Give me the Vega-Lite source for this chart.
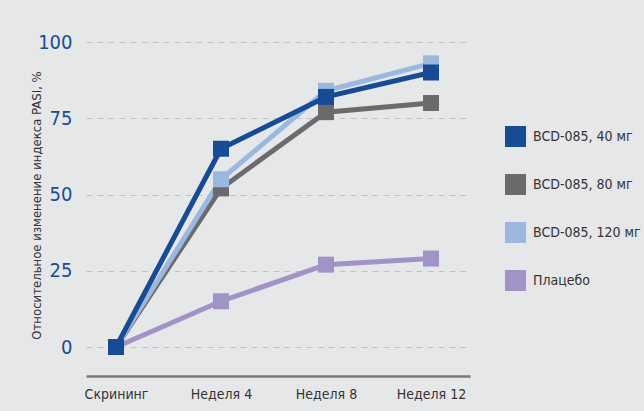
{
  "$schema": "https://vega.github.io/schema/vega-lite/v6.json",
  "autosize": {"type": "none"},
  "width": 384,
  "height": 305,
  "padding": {"left": 86, "top": 42, "right": 174, "bottom": 64},
  "background": "#e6e7e9",
  "data": {
    "values": [
      {"week": "Скрининг", "group": "Плацебо", "value": 0},
      {"week": "Неделя 4", "group": "Плацебо", "value": 15},
      {"week": "Неделя 8", "group": "Плацебо", "value": 27},
      {"week": "Неделя 12", "group": "Плацебо", "value": 29},
      {"week": "Скрининг", "group": "BCD-085, 80 мг", "value": 0},
      {"week": "Неделя 4", "group": "BCD-085, 80 мг", "value": 52},
      {"week": "Неделя 8", "group": "BCD-085, 80 мг", "value": 77},
      {"week": "Неделя 12", "group": "BCD-085, 80 мг", "value": 80},
      {"week": "Скрининг", "group": "BCD-085, 120 мг", "value": 0},
      {"week": "Неделя 4", "group": "BCD-085, 120 мг", "value": 55},
      {"week": "Неделя 8", "group": "BCD-085, 120 мг", "value": 84},
      {"week": "Неделя 12", "group": "BCD-085, 120 мг", "value": 93},
      {"week": "Скрининг", "group": "BCD-085, 40 мг", "value": 0},
      {"week": "Неделя 4", "group": "BCD-085, 40 мг", "value": 65},
      {"week": "Неделя 8", "group": "BCD-085, 40 мг", "value": 82},
      {"week": "Неделя 12", "group": "BCD-085, 40 мг", "value": 90}
    ]
  },
  "encoding": {
    "x": {
      "field": "week", "type": "ordinal",
      "sort": ["Скрининг", "Неделя 4", "Неделя 8", "Неделя 12"],
      "scale": {"type": "point", "padding": 0.3286, "align": 0.435},
      "axis": {
        "title": null, "labelAngle": 0, "offset": 29, "ticks": false, "grid": false,
        "domainColor": "#7a7a7a", "domainWidth": 2.5,
        "labelFontSize": 14, "labelColor": "#333333", "labelPadding": 11,
        "labelFont": "DejaVu Sans Condensed, sans-serif"
      }
    },
    "y": {
      "field": "value", "type": "quantitative",
      "scale": {"domain": [0, 100]},
      "axis": {
        "values": [0, 25, 50, 75, 100],
        "title": "Относительное изменение индекса PASI, %",
        "titleFontSize": 13, "titleFontWeight": "normal", "titleColor": "#333333",
        "titleFont": "DejaVu Sans Condensed, sans-serif",
        "titlePadding": -6, "titleY": 163,
        "domain": false, "ticks": false,
        "labelFontSize": 20, "labelColor": "#1a4b96", "labelPadding": 14,
        "labelFont": "DejaVu Sans Condensed, sans-serif",
        "gridColor": "#c2c2c2", "gridDash": [6, 5], "gridWidth": 1
      }
    },
    "color": {
      "field": "group", "type": "nominal",
      "scale": {
        "domain": ["BCD-085, 40 мг", "BCD-085, 80 мг", "BCD-085, 120 мг", "Плацебо"],
        "range": ["#174b94", "#6b6b6d", "#9ab8e0", "#a293c6"]
      },
      "legend": {
        "title": null, "orient": "none", "legendX": 419, "legendY": 84,
        "symbolType": "square", "symbolSize": 441, "symbolStrokeWidth": 0,
        "rowPadding": 27, "labelOffset": 7,
        "labelFontSize": 14, "labelColor": "#333333", "labelLimit": 200,
        "labelFont": "DejaVu Sans Condensed, sans-serif"
      }
    }
  },
  "layer": [
    {
      "mark": {"type": "line", "strokeWidth": 5}
    },
    {
      "mark": {"type": "square", "size": 256, "opacity": 1}
    }
  ],
  "config": {"view": {"stroke": null}}
}
